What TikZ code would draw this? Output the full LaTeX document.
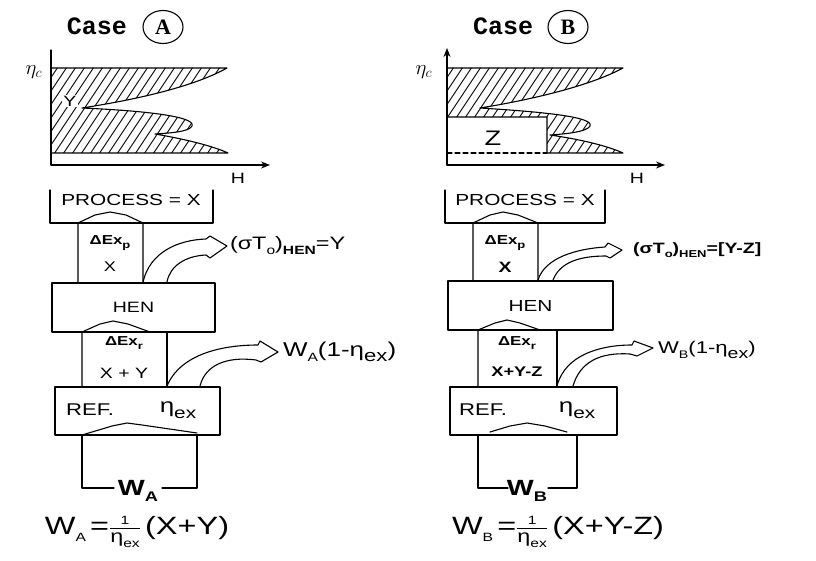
\documentclass[tikz,border=0pt]{standalone}
\usepackage{fontspec}
\setmainfont{Liberation Sans}[FakeStretch=1.3]
\newfontfamily\casefont{Liberation Mono}
\newfontfamily\serifA{Liberation Serif}
\usetikzlibrary{arrows.meta,shapes.geometric}
\newcommand\sbs[2]{\raisebox{-0.28em}{\fontsize{#1}{#1}\selectfont #2}}
\newcommand\fs[1]{\fontsize{#1}{#1}\selectfont}
\begin{document}
\begin{tikzpicture}[x=1pt,y=-1pt,
  ln/.style={line width=1.1pt,line join=round,line cap=round},
  t/.style={inner sep=0pt,outer sep=0pt},
  hatch/.style={path picture={\foreach \i in {-140,-131,...,700} \draw[line width=0.9pt] (\i,175) -- (\i+80,55);}},
  casetxt/.style={t,font=\casefont\bfseries\fs{25}},
  circ/.style={draw,ellipse,line width=1.1pt,inner sep=0pt,minimum width=40pt,minimum height=33pt,font=\serifA\bfseries\fs{22}},
  box/.style={draw,ln,inner sep=0pt},
  axarrow/.style={ln,-{Stealth[length=9pt,width=7pt]}}
]
\useasboundingbox[fill=white] (0,0) rectangle (816,561);

% ---------- titles ----------
\node[casetxt] (caseA) at (97,26) {Case};
\node[circ] (circA) at (163,27) {A};
\node[casetxt] (caseB) at (503,26) {Case};
\node[circ] (circB) at (568,27) {B};

% ---------- graph A ----------
\draw[ln,hatch] (51,68) -- (227,68) .. controls (195,86) and (140,99) .. (82,108)
   .. controls (150,111) and (196,117) .. (192,126) .. controls (189,132) and (170,133) .. (155,134)
   .. controls (190,140) and (215,147) .. (228,153) -- (51,153) -- cycle;
\node[t,fill=white,inner sep=1pt,font=\fs{15}] (yA) at (70,101) {Y};
\draw[axarrow] (51,50) -- (51,165) -- (270,165);
\node[t,font=\fs{21}] (etaA) at (34,72) {$\eta_c$};
\node[t,font=\fs{15}] (hA) at (238,178) {H};

% ---------- graph B ----------
\draw[ln,hatch] (447,68) -- (623,68) .. controls (590,86) and (530,100) .. (480,108)
   .. controls (545,112) and (594,117) .. (590,126) .. controls (587,132) and (565,134) .. (550,135)
   .. controls (585,140) and (610,147) .. (623,153) -- (547,153) -- (547,117) -- (447,117) -- cycle;
\draw[ln,dashed,dash pattern=on 5pt off 3pt] (447,153) -- (547,153);
\node[t,font=\fs{21}] (zB) at (493,138) {Z};
\draw[axarrow] (447,165) -- (447,48);
\draw[axarrow] (447,165) -- (665,165);
\node[t,font=\fs{21}] (etaB) at (424,72) {$\eta_c$};
\node[t,font=\fs{15}] (hB) at (637,178) {H};

% ---------- block diagram A ----------
\node[t,font=\fs{16}] (procA) at (131,200) {PROCESS = X};
\draw[ln] (50,190) -- (50,223) -- (213,223) -- (213,190);
\draw[ln] (78,282) -- (78,223) -- (95,215) -- (110,212) -- (126,215) -- (143,223) -- (143,282);
\node[t,font=\bfseries\fs{13}] (dpA) at (110,243) {ΔEx\sbs{10}{p}};
\node[t,font=\fs{14}] (xpA) at (110,267) {X};
\node[box,minimum width=163pt,minimum height=49pt,font=\fs{15}] (henA) at (133.5,307.5) {HEN};
\draw[ln] (82,387) -- (82,332) -- (100,324) -- (113,321) -- (128,324) -- (150,332);
\draw[ln] (167,332) -- (167,387);
\node[t,font=\bfseries\fs{13}] (drA) at (124,343) {ΔEx\sbs{10}{r}};
\node[t,font=\fs{15}] (xrA) at (124,373) {X + Y};
\node[box,minimum width=165pt,minimum height=48pt] (refA) at (137.5,411) {};
\node[t,font=\fs{17}] (reftA) at (90,410) {REF.};
\node[t,font=\fs{20}] (etarA) at (178,410) {η\sbs{16}{ex}};
\draw[ln] (82,435) -- (112,426) -- (127,423) -- (142,425) -- (197,433);
\draw[ln] (82,435) -- (82,488) -- (114,488);
\draw[ln] (162,488) -- (197,488) -- (197,435);
\node[t,font=\bfseries\fs{22}] (wA) at (138,491) {W\sbs{14}{A}};
\node[t,font=\fs{25}] (fA) at (137,532) {W\sbs{12}{A}\,=$\frac{\mbox{\fs{12}1}}{\mbox{\fs{18}η\sbs{12}{ex}}}$\,(X+Y)};

\coordinate (a1s) at (143,282);
\coordinate (a1e) at (167,282);
\draw[ln] (a1s) .. controls (150,252) and (178,240) .. (206,239) -- (210,236) -- (227,246)
   -- (210,258) -- (206,255) .. controls (185,256) and (170,266) .. (a1e);
\node[t,anchor=west,font=\fs{18}] (sA) at (230,246) {(σT\sbs{12}{o})\sbs{12}{\bfseries HEN}=Y};
\coordinate (a2s) at (167,386);
\coordinate (a2e) at (200,386);
\draw[ln] (a2s) .. controls (180,355) and (220,345) .. (258,345) -- (260,341) -- (278,352)
   -- (261,362) -- (256,360) .. controls (225,356) and (205,366) .. (a2e);
\node[t,anchor=west,font=\fs{20}] (lA) at (283,352) {W\sbs{12}{A}(1-η\sbs{17}{ex})};

% ---------- block diagram B ----------
\node[t,font=\fs{16}] (procB) at (525,200) {PROCESS = X};
\draw[ln] (445,190) -- (445,223) -- (605,223) -- (605,190);
\draw[ln] (473,280) -- (473,223) -- (490,215) -- (503,212) -- (518,215) -- (538,223) -- (538,280);
\node[t,font=\bfseries\fs{13}] (dpB) at (505,243) {ΔEx\sbs{10}{p}};
\node[t,font=\bfseries\fs{15}] (xpB) at (505,267) {X};
\node[box,minimum width=165pt,minimum height=49pt,font=\fs{16}] (henB) at (530.5,305.5) {HEN};
\draw[ln] (478,387) -- (478,330) -- (495,323) -- (507,320) -- (520,323) -- (540,330);
\draw[ln] (557,330) -- (557,387);
\node[t,font=\bfseries\fs{13}] (drB) at (517,343) {ΔEx\sbs{10}{r}};
\node[t,font=\bfseries\fs{14}] (xrB) at (517,372) {X+Y-Z};
\node[box,minimum width=167pt,minimum height=48pt] (refB) at (533.5,411) {};
\node[t,font=\fs{17}] (reftB) at (483,410) {REF.};
\node[t,font=\fs{20}] (etarB) at (577,410) {η\sbs{16}{ex}};
\draw[ln] (490,432) -- (510,426) -- (527,423) -- (545,426) -- (567,432);
\draw[ln] (478,435) -- (478,488) -- (508,488);
\draw[ln] (548,488) -- (577,488) -- (577,435);
\node[t,font=\bfseries\fs{22}] (wB) at (527,491) {W\sbs{14}{B}};
\node[t,font=\fs{25}] (fB) at (558,532) {W\sbs{12}{B}\,=$\frac{\mbox{\fs{12}1}}{\mbox{\fs{18}η\sbs{12}{ex}}}$\,(X+Y-Z)};

\coordinate (b1s) at (538,280);
\coordinate (b1e) at (553,280);
\draw[ln] (b1s) .. controls (545,258) and (575,249) .. (605,247) -- (608,243) -- (622,250)
   -- (610,258) -- (606,256) .. controls (580,256) and (560,262) .. (b1e);
\node[t,anchor=west,font=\bfseries\fs{15}] (sB) at (633,250) {(σT\sbs{10}{o})\sbs{10}{HEN}=[Y-Z]};
\coordinate (b2s) at (557,386);
\coordinate (b2e) at (573,386);
\draw[ln] (b2s) .. controls (565,355) and (600,345) .. (632,345) -- (634,341) -- (653,348)
   -- (637,356) -- (630,354) .. controls (600,352) and (580,362) .. (b2e);
\node[t,anchor=west,font=\fs{17}] (lB) at (658,350) {W\sbs{11}{B}(1-η\sbs{15}{ex})};
\end{tikzpicture}
\end{document}
